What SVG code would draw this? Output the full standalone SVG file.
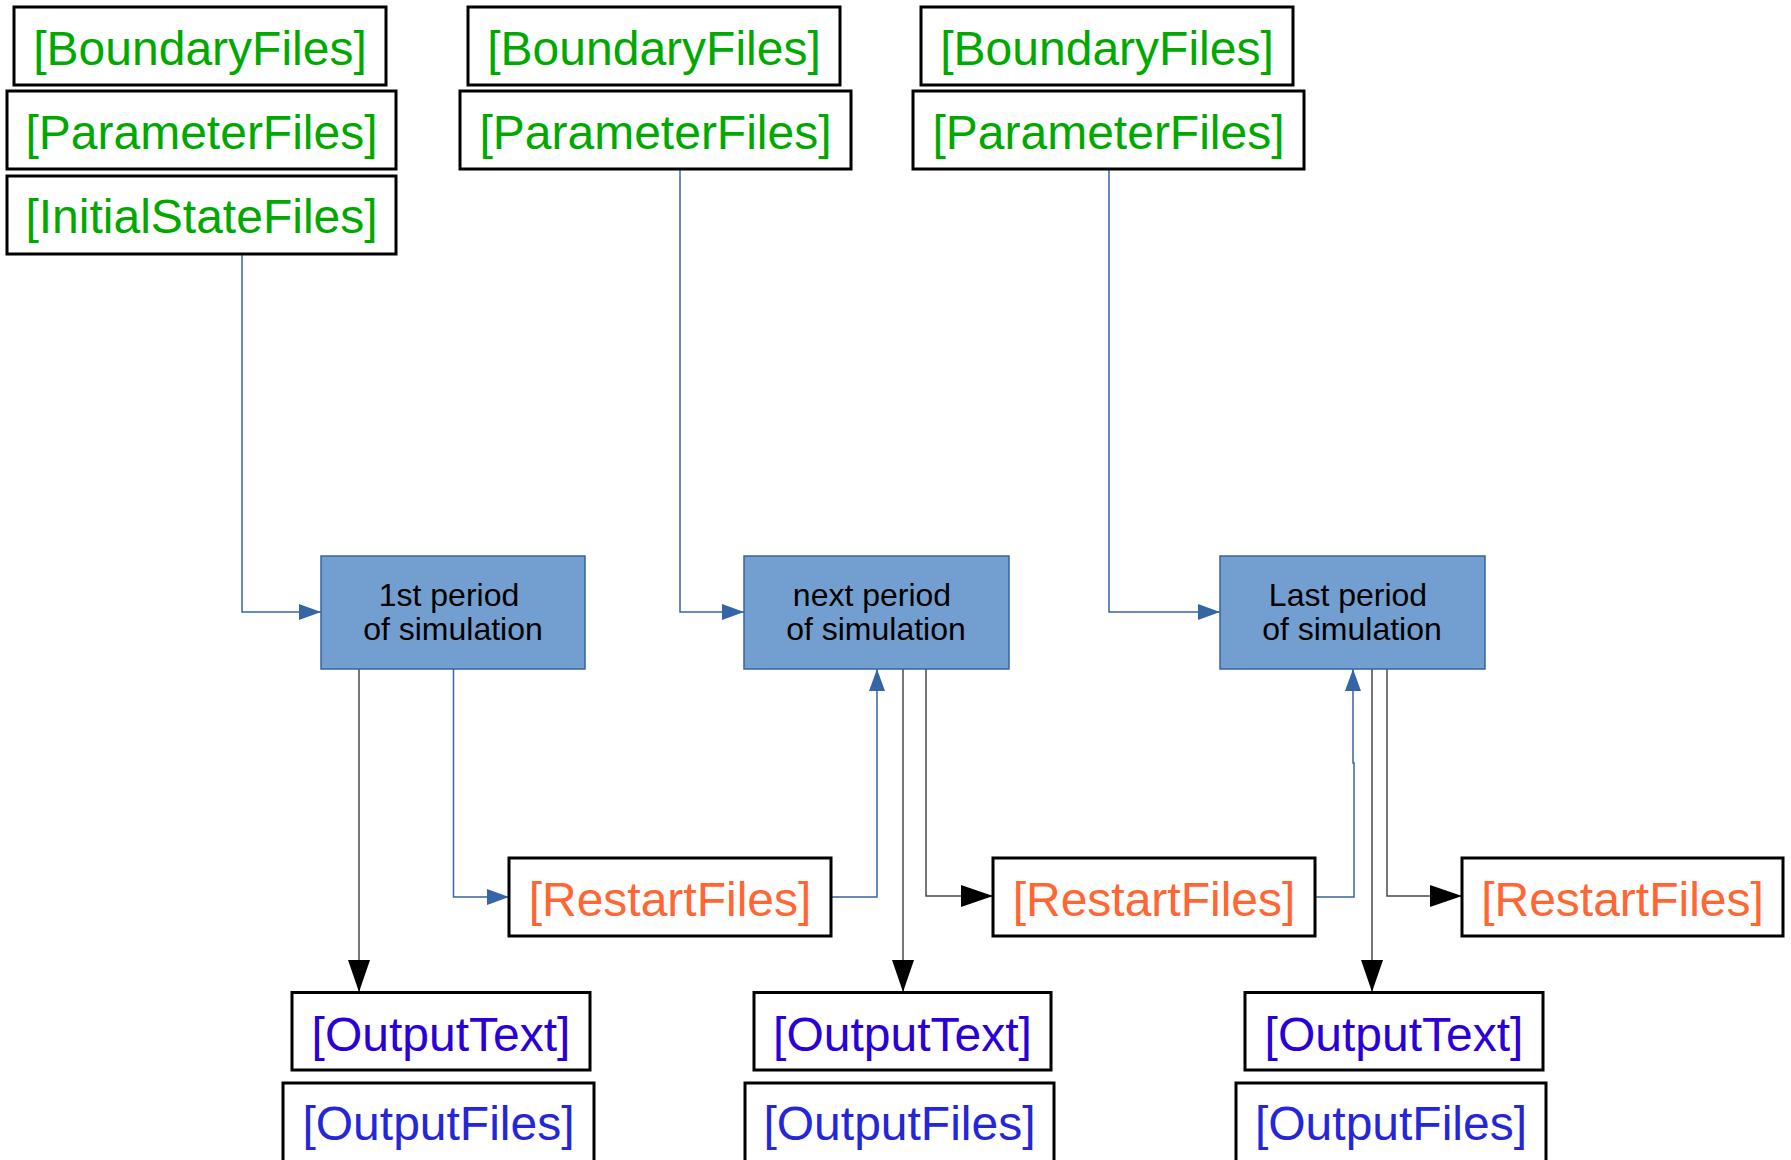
<svg xmlns="http://www.w3.org/2000/svg" width="1791" height="1160" viewBox="0 0 1791 1160">
  <style>
    .box { fill: #ffffff; stroke: #000000; stroke-width: 3; }
    .step { fill: #729fcf; stroke: #3465a4; stroke-width: 1.5; }
    .lbl { font-family: "Liberation Sans", Arial, sans-serif; font-size: 48px; text-anchor: middle; }
    .in { fill: #00a900; }
    .rst { fill: #ff6633; }
    .outt { fill: #2a00d8; }
    .outf { fill: #2626d9; }
    .steptxt { font-family: "Liberation Sans", Arial, sans-serif; font-size: 32px; text-anchor: middle; fill: #000000; }
    .cb { fill: none; stroke: #3465a4; stroke-width: 1.5; }
    .ck { fill: none; stroke: #4a4a4a; stroke-width: 1.5; }
  </style>
  <defs>
    <marker id="arrowBlue" markerUnits="userSpaceOnUse" markerWidth="22" markerHeight="16" refX="22" refY="8" orient="auto">
      <path d="M0,0 L22,8 L0,16 Z" fill="#3465a4"/>
    </marker>
    <marker id="arrowBlack" markerUnits="userSpaceOnUse" markerWidth="32" markerHeight="22" refX="32" refY="11" orient="auto">
      <path d="M0,0 L32,11 L0,22 Z" fill="#000000"/>
    </marker>
  </defs>

  <rect width="1791" height="1160" fill="#ffffff"/>

  <!-- connectors -->
  <g id="connectors">
    <path class="cb" d="M202,254 H242 V612 H321" marker-end="url(#arrowBlue)"/>
    <path class="cb" d="M656,169 H680 V612 H744" marker-end="url(#arrowBlue)"/>
    <path class="cb" d="M1109,169 V612 H1220" marker-end="url(#arrowBlue)"/>
    <path class="ck" d="M359,669 V992" marker-end="url(#arrowBlack)"/>
    <path class="cb" d="M453.5,669 V897 H509" marker-end="url(#arrowBlue)"/>
    <path class="cb" d="M831,897 H877 V669" marker-end="url(#arrowBlue)"/>
    <path class="ck" d="M903,669 V992" marker-end="url(#arrowBlack)"/>
    <path class="ck" d="M926,669 V896 H993" marker-end="url(#arrowBlack)"/>
    <path class="cb" d="M1315,897 H1354 V763 H1353 V669" marker-end="url(#arrowBlue)"/>
    <path class="ck" d="M1372,669 V992" marker-end="url(#arrowBlack)"/>
    <path class="ck" d="M1387,669 V896 H1462" marker-end="url(#arrowBlack)"/>
  </g>

  <!-- inputs, first period -->
  <g id="boundary1">
    <rect class="box" x="14" y="7" width="372" height="78"/>
    <text class="lbl in" x="200" y="65">[BoundaryFiles]</text>
  </g>
  <g id="parameter1">
    <rect class="box" x="7" y="91" width="389" height="78"/>
    <text class="lbl in" x="201.5" y="149">[ParameterFiles]</text>
  </g>
  <g id="initialstate1">
    <rect class="box" x="7" y="176" width="389" height="78"/>
    <text class="lbl in" x="201.5" y="233">[InitialStateFiles]</text>
  </g>

  <!-- inputs, next period -->
  <g id="boundary2">
    <rect class="box" x="468" y="7" width="372" height="78"/>
    <text class="lbl in" x="654" y="65">[BoundaryFiles]</text>
  </g>
  <g id="parameter2">
    <rect class="box" x="460" y="91" width="391" height="78"/>
    <text class="lbl in" x="655.5" y="149">[ParameterFiles]</text>
  </g>

  <!-- inputs, last period -->
  <g id="boundary3">
    <rect class="box" x="921" y="7" width="372" height="78"/>
    <text class="lbl in" x="1107" y="65">[BoundaryFiles]</text>
  </g>
  <g id="parameter3">
    <rect class="box" x="913" y="91" width="391" height="78"/>
    <text class="lbl in" x="1108.5" y="149">[ParameterFiles]</text>
  </g>

  <!-- simulation periods -->
  <g id="period1">
    <rect class="step" x="321" y="556" width="264" height="113"/>
    <text class="steptxt" x="449" y="606">1st period</text>
    <text class="steptxt" x="453" y="640">of simulation</text>
  </g>
  <g id="period2">
    <rect class="step" x="744" y="556" width="265" height="113"/>
    <text class="steptxt" x="872" y="606">next period</text>
    <text class="steptxt" x="876" y="640">of simulation</text>
  </g>
  <g id="period3">
    <rect class="step" x="1220" y="556" width="265" height="113"/>
    <text class="steptxt" x="1348" y="606">Last period</text>
    <text class="steptxt" x="1352" y="640">of simulation</text>
  </g>

  <!-- restart files -->
  <g id="restart1">
    <rect class="box" x="509" y="858" width="322" height="78"/>
    <text class="lbl rst" x="670" y="916">[RestartFiles]</text>
  </g>
  <g id="restart2">
    <rect class="box" x="993" y="858" width="322" height="78"/>
    <text class="lbl rst" x="1154" y="916">[RestartFiles]</text>
  </g>
  <g id="restart3">
    <rect class="box" x="1462" y="858" width="321" height="78"/>
    <text class="lbl rst" x="1622.5" y="916">[RestartFiles]</text>
  </g>

  <!-- outputs -->
  <g id="outtext1">
    <rect class="box" x="292" y="992.5" width="298" height="77.5"/>
    <text class="lbl outt" x="441" y="1051">[OutputText]</text>
  </g>
  <g id="outfiles1">
    <rect class="box" x="283" y="1083" width="311" height="82"/>
    <text class="lbl outf" x="438.5" y="1140">[OutputFiles]</text>
  </g>
  <g id="outtext2">
    <rect class="box" x="754" y="992.5" width="297" height="77.5"/>
    <text class="lbl outt" x="902.5" y="1051">[OutputText]</text>
  </g>
  <g id="outfiles2">
    <rect class="box" x="745" y="1083" width="309" height="82"/>
    <text class="lbl outf" x="899.5" y="1140">[OutputFiles]</text>
  </g>
  <g id="outtext3">
    <rect class="box" x="1245" y="992.5" width="298" height="77.5"/>
    <text class="lbl outt" x="1394" y="1051">[OutputText]</text>
  </g>
  <g id="outfiles3">
    <rect class="box" x="1236" y="1083" width="310" height="82"/>
    <text class="lbl outf" x="1391" y="1140">[OutputFiles]</text>
  </g>
</svg>
